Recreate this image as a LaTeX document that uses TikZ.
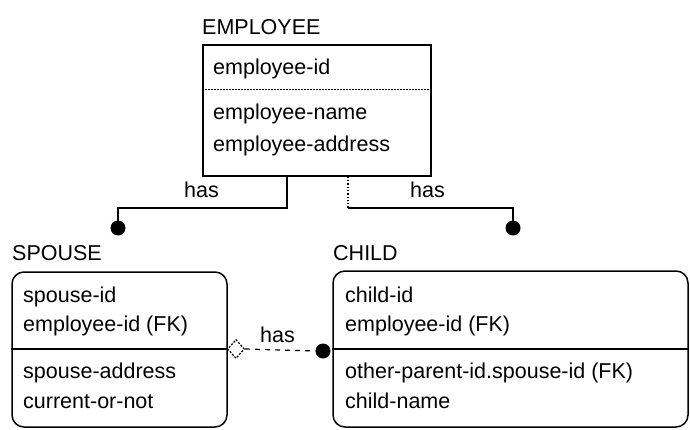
\documentclass[tikz,border=0pt]{standalone}
\usepackage{fontspec}
\setmainfont{Liberation Sans}
\usetikzlibrary{shapes.geometric,calc}
\begin{document}
\begin{tikzpicture}[x=1pt,y=-1pt,
  txt/.style={anchor=base west,inner sep=0pt,font=\fontsize{21.5}{26}\selectfont},
  ent/.style={draw,line width=1.5pt,inner sep=0pt},
  rent/.style={ent,rounded corners=12pt},
  rel/.style={line width=1.5pt},
  dotrel/.style={line width=1.3pt,dotted},
  dashrel/.style={line width=1.2pt,dash pattern=on 5pt off 5pt},
  blob/.style={circle,fill,inner sep=0pt,minimum size=15pt},
  hollow/.style={diamond,draw,line width=1.2pt,dash pattern=on 2pt off 1.5pt,fill=white,inner sep=0pt,minimum width=17pt,minimum height=19pt}]
\useasboundingbox (0,0) rectangle (690,430);
% EMPLOYEE
\node[txt] (empt) at (202,35) {EMPLOYEE};
\node[ent,minimum width=228pt,minimum height=131pt] (emp) at (317,110.5) {};
\draw[line width=1pt,dash pattern=on 1.5pt off 1.5pt] (emp.west |- 0,90) coordinate (ed1) -- (emp.east |- 0,90) coordinate (ed2);
\node[txt] (e1) at (213,75) {employee-id};
\node[txt] (e2) at (213,120) {employee-name};
\node[txt] (e3) at (213,152) {employee-address};
% SPOUSE
\node[txt] (spt) at (12,260) {SPOUSE};
\node[rent,minimum width=215pt,minimum height=155pt] (sp) at (119.5,349.5) {};
\draw[line width=1.5pt] (sp.west |- 0,349) coordinate (sd1) -- (sp.east |- 0,349) coordinate (sd2);
\node[txt] (s1) at (23,302) {spouse-id};
\node[txt] (s2) at (23,331) {employee-id (FK)};
\node[txt] (s3) at (23,378) {spouse-address};
\node[txt] (s4) at (23,408) {current-or-not};
% CHILD
\node[txt] (cht) at (333,260) {CHILD};
\node[rent,minimum width=355pt,minimum height=156pt] (ch) at (510.5,349) {};
\draw[line width=1.5pt] (ch.west |- 0,349) coordinate (cd1) -- (ch.east |- 0,349) coordinate (cd2);
\node[txt] (c1) at (345,302) {child-id};
\node[txt] (c2) at (345,331) {employee-id (FK)};
\node[txt] (c3) at (345,378) {other-parent-id.spouse-id (FK)};
\node[txt] (c4) at (345,408) {child-name};
% EMPLOYEE - SPOUSE
\node[blob] (d1) at (118,228) {};
\coordinate (a1) at (emp.south -| 287,0);
\draw[rel] (a1) -- (287,208) -| (d1.center);
\node[txt] (h1) at (184,198) {has};
% EMPLOYEE - CHILD
\node[blob] (d2) at (513,228) {};
\coordinate (a2) at (emp.south -| 348,0);
\coordinate (b2) at (348,208);
\draw[dotrel] (a2) -- (b2);
\draw[rel] (b2) -| (d2.center);
\node[txt] (h2) at (410,198) {has};
% SPOUSE - CHILD
\node[hollow] (dm) at (sd2 -| 236,0) {};
\node[blob] (d3) at (323,351) {};
\draw[dashrel] (dm.east) -- (d3.west);
\node[txt] (h3) at (260,342) {has};
\end{tikzpicture}
\end{document}
